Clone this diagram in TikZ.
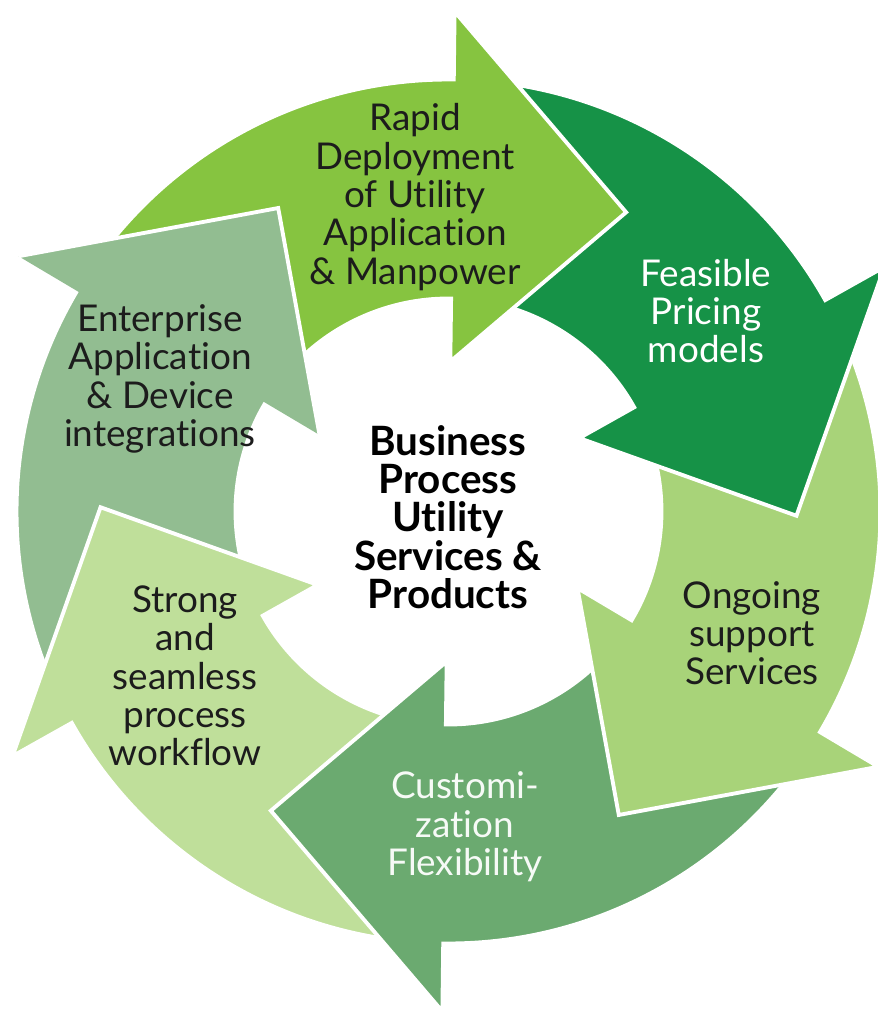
\documentclass[tikz,border=0pt]{standalone}
\usepackage{fontspec}
\setmainfont{Lato}[Ligatures={NoCommon}]

\definecolor{cRapid}{RGB}{134,196,64}
\definecolor{cPricing}{RGB}{22,146,71}
\definecolor{cSupport}{RGB}{168,211,121}
\definecolor{cCustom}{RGB}{107,170,112}
\definecolor{cWorkflow}{RGB}{191,223,154}
\definecolor{cEnterprise}{RGB}{146,189,145}
\definecolor{cInk}{RGB}{28,28,28}

\begin{document}
\begin{tikzpicture}[
  x=0.02cm, y=0.02cm,
  seg/.style={fill=#1,draw=white,line width=2.2pt,line join=miter},
  lbl/.style={align=center,font=\fontsize{21}{21.8}\selectfont,text=#1},
  hub/.style={align=center,font=\fontsize{23}{21.8}\selectfont\bfseries}
]
\useasboundingbox (-448.5,-502.5) rectangle (428.5,511.5);

% ring segments, drawn backwards so each head lies on the next shaft
\foreach \p/\c in {-210.7/cEnterprise,-150.7/cWorkflow,-90.7/cCustom,
                   -30.7/cSupport,29.3/cPricing,89.3/cRapid}
  \filldraw[seg=\c] (\p+55:432) arc[start angle=\p+55,end angle=\p,radius=432]
    -- (\p:500) -- (\p-30:348) -- (\p:150) -- (\p:213)
    arc[start angle=\p,end angle=\p+55,radius=213] -- cycle;

% head of the last arrow goes over the first shaft
\fill[cEnterprise] (149.3:500) -- (119.3:348) -- (149.3:150) -- cycle;
\draw[white,line width=2.2pt,line join=miter] (149.3:500) -- (119.3:348) -- (149.3:150);

\node[lbl=cInk] (rapid) at (-33.5,314.5) {Rapid\\Deployment\\of Utility\\Application\\\& Manpower};
\node[lbl=white] (pricing) at (257.5,200.5) {Feasible\\Pricing\\models};
\node[lbl=cInk] (support) at (303.5,-121.5) {Ongoing\\support\\Services};
\node[lbl=white!94!cCustom] (custom) at (16.5,-315.5) {Customi-\\zation\\Flexibility};
\node[lbl=cInk] (workflow) at (-263.5,-164.5) {Strong\\and\\seamless\\process\\workflow};
\node[lbl=cInk] (enterprise) at (-288.5,132.5) {Enterprise\\Application\\\& Device\\integrations};
\node[hub] (core) at (-0.5,-5.5) {Business\\Process\\Utility\\Services \&\\Products};
\end{tikzpicture}
\end{document}
